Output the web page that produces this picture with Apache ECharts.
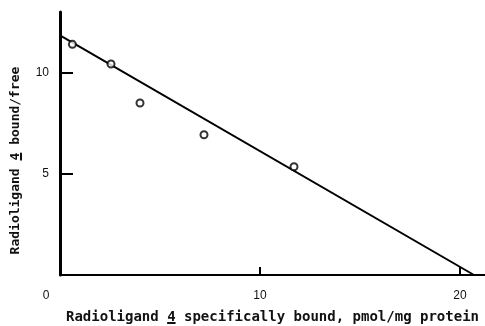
<!DOCTYPE html>
<html>
<head>
<meta charset="utf-8">
<script src="https://cdn.jsdelivr.net/npm/echarts@6/dist/echarts.min.js"></script>
<style>
  html, body { margin: 0; padding: 0; background: #fff; }
  #chart { width: 485px; height: 326px; }
</style>
</head>
<body>
<div id="chart"></div>
<script>
// Scatchard plot: measured points and fitted line
const boundX = [0.62, 2.55, 4.0, 7.2, 11.7];
const ratioY = [11.4, 10.43, 8.5, 6.93, 5.35];
const fitX = [0, 20.7];
const fitY = [11.85, 0];

const xTicks = [10, 20];
const xLabels = [0, 10, 20];
const yTicks = [5, 10];

// "4" is underlined in the original, done with a rich segment
const xName = 'Radioligand {u|4} specifically bound, pmol/mg protein';
const yName = 'Radioligand {u|4} bound/free';

const chart = echarts.init(document.getElementById('chart'));

// gradient background drawn as an underline under the rich segment
const underline = new echarts.graphic.LinearGradient(0, 0, 0, 1, [
  { offset: 0, color: 'rgba(0,0,0,0)' },
  { offset: 0.86, color: 'rgba(0,0,0,0)' },
  { offset: 0.86, color: '#111' },
  { offset: 1, color: '#111' }
]);

function titleFont(size) {
  return {
    fontFamily: 'DejaVu Sans Mono',
    fontWeight: 'bold',
    fontSize: size,
    color: '#111',
    rich: {
      u: {
        fontFamily: 'DejaVu Sans Mono',
        fontWeight: 'bold',
        fontSize: size,
        color: '#111',
        backgroundColor: underline
      }
    }
  };
}

chart.setOption({
  animation: false,
  backgroundColor: '#fff',
  grid: { left: 60, right: 0, top: 12, bottom: 51, outerBoundsMode: 'none' },
  xAxis: {
    type: 'value',
    min: 0,
    max: 21.25,
    interval: 10,
    name: xName,
    nameLocation: 'middle',
    nameGap: 35,
    nameTextStyle: titleFont(14),
    axisLine: { show: true, lineStyle: { color: '#000', width: 2 } },
    axisTick: { show: true, inside: true, length: 8, customValues: xTicks, lineStyle: { color: '#000', width: 2 } },
    splitLine: { show: false },
    axisLabel: {
      customValues: xLabels,
      margin: 15,
      fontFamily: 'Liberation Sans',
      fontSize: 12,
      color: '#111',
      formatter: v => (v === 0 ? '{z|0}' : String(v)),
      rich: { z: { padding: [0, 28, 0, 0], fontSize: 12, fontFamily: 'Liberation Sans', color: '#111' } }
    }
  },
  yAxis: {
    type: 'value',
    min: 0,
    max: 13,
    interval: 5,
    name: yName,
    nameLocation: 'middle',
    nameRotate: 90,
    nameGap: 38,
    nameTextStyle: Object.assign(titleFont(13), { padding: [0, 34, 0, 0] }),
    axisLine: { show: true, lineStyle: { color: '#000', width: 3 } },
    axisTick: { show: true, inside: true, length: 13, customValues: yTicks, lineStyle: { color: '#000', width: 2 } },
    splitLine: { show: false },
    axisLabel: {
      customValues: yTicks,
      margin: 11,
      padding: [6, 0, 0, 0],
      fontFamily: 'Liberation Sans',
      fontSize: 12,
      color: '#111'
    }
  },
  series: [
    {
      type: 'line',
      data: fitX.map((x, i) => [x, fitY[i]]),
      showSymbol: false,
      lineStyle: { color: '#000', width: 2 },
      z: 2
    },
    {
      type: 'scatter',
      data: boundX.map((x, i) => [x, ratioY[i]]),
      symbol: 'circle',
      symbolSize: 7,
      itemStyle: { color: '#fff', borderColor: '#000', borderWidth: 2 },
      z: 3
    }
  ]
});
</script>
</body>
</html>
